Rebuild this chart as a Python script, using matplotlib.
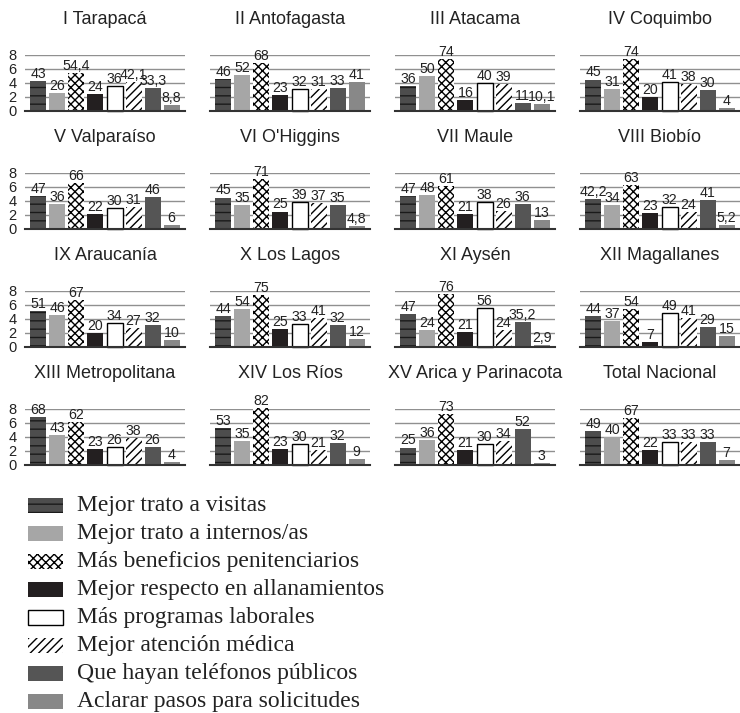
import matplotlib
matplotlib.use("Agg")
import matplotlib.pyplot as plt
from matplotlib.patches import Rectangle

# region titles, in reading order (4 x 4 grid)
regiones = ["I Tarapacá", "II Antofagasta", "III Atacama", "IV Coquimbo",
            "V Valparaíso", "VI O'Higgins", "VII Maule", "VIII Biobío",
            "IX Araucanía", "X Los Lagos", "XI Aysén", "XII Magallanes",
            "XIII Metropolitana", "XIV Los Ríos", "XV Arica y Parinacota",
            "Total Nacional"]

categorias = ["Mejor trato a visitas", "Mejor trato a internos/as",
              "Más beneficios penitenciarios", "Mejor respecto en allanamientos",
              "Más programas laborales", "Mejor atención médica",
              "Que hayan teléfonos públicos", "Aclarar pasos para solicitudes"]

# percentages per region, one list per category order above
tarapaca = [43, 26, 54.4, 24, 36, 42.1, 33.3, 8.8]
antofagasta = [46, 52, 68, 23, 32, 31, 33, 41]
atacama = [36, 50, 74, 16, 40, 39, 11, 10.1]
coquimbo = [45, 31, 74, 20, 41, 38, 30, 4]
valparaiso = [47, 36, 66, 22, 30, 31, 46, 6]
ohiggins = [45, 35, 71, 25, 39, 37, 35, 4.8]
maule = [47, 48, 61, 21, 38, 26, 36, 13]
biobio = [42.2, 34, 63, 23, 32, 24, 41, 5.2]
araucania = [51, 46, 67, 20, 34, 27, 32, 10]
los_lagos = [44, 54, 75, 25, 33, 41, 32, 12]
aysen = [47, 24, 76, 21, 56, 24, 35.2, 2.9]
magallanes = [44, 37, 54, 7, 49, 41, 29, 15]
metropolitana = [68, 43, 62, 23, 26, 38, 26, 4]
los_rios = [53, 35, 82, 23, 30, 21, 32, 9]
arica = [25, 36, 73, 21, 30, 34, 52, 3]
total = [49, 40, 67, 22, 33, 33, 33, 7]

valores = [tarapaca, antofagasta, atacama, coquimbo, valparaiso, ohiggins,
           maule, biobio, araucania, los_lagos, aysen, magallanes,
           metropolitana, los_rios, arica, total]

# bar styles: (facecolor, edgecolor, hatch, linewidth)
estilos = [
    ("#4d4d4d", "#1a1a1a", "--", 0),
    ("#a6a6a6", "#a6a6a6", None, 0),
    ("white", "black", "xxxx", 0),
    ("#231f20", "#231f20", None, 0),
    ("white", "black", None, 1.0),
    ("white", "black", "////", 0),
    ("#555555", "#555555", None, 0),
    ("#888888", "#888888", None, 0),
]

W, H = 740, 713
fig = plt.figure(figsize=(W / 100, H / 100), dpi=100)

sans = ["Liberation Sans", "DejaVu Sans"]
serif = ["Liberation Serif", "DejaVu Serif"]

col_left = [25, 210, 395, 580]
row_base = [111, 229, 347, 465]
ax_w, ax_h = 160, 56  # pixels, 0..8

def fmt(v):
    return f"{v:g}".replace(".", ",")

for i, (reg, vals) in enumerate(zip(regiones, valores)):
    r, c = divmod(i, 4)
    x0 = col_left[c]
    yb = row_base[r]
    ax = fig.add_axes([x0 / W, (H - yb) / H, ax_w / W, ax_h / H])
    ax.set_xlim(-0.7, 7.7)
    ax.set_ylim(0, 8)
    for k, v in enumerate(vals):
        fc, ec, hat, lw = estilos[k]
        ax.bar(k, v / 10, width=0.84, color=fc, edgecolor=ec, hatch=hat,
               linewidth=lw, zorder=3, clip_on=False)
        ax.annotate(fmt(v), (k, v / 10), xytext=(0, 0), textcoords="offset points",
                    ha="center", va="bottom", fontsize=10.2, family=sans,
                    color="#222222", zorder=4, annotation_clip=False)
    ax.set_yticks([0, 2, 4, 6, 8])
    ax.yaxis.grid(True, color="#909090", linewidth=1.0, zorder=0)
    ax.set_xticks([])
    ax.tick_params(axis="y", length=0, pad=6)
    if c == 0:
        for lab in ax.get_yticklabels():
            lab.set_family(sans)
            lab.set_fontsize(10.5)
            lab.set_color("#222222")
    else:
        ax.set_yticklabels([])
    for s in ["left", "right", "top"]:
        ax.spines[s].set_visible(False)
    ax.spines["bottom"].set_color("#333333")
    ax.spines["bottom"].set_linewidth(1.5)
    ax.spines["bottom"].set_zorder(5)
    ax.set_facecolor("none")
    fig.text((x0 + ax_w / 2) / W, (H - (yb - 91)) / H, reg, ha="center",
             va="center", fontsize=13, family=sans, color="#222222")

# legend at the bottom
lax = fig.add_axes([0, 0, 1, 1])
lax.set_xlim(0, W)
lax.set_ylim(H, 0)
lax.axis("off")
lax.set_facecolor("none")
for k, cat in enumerate(categorias):
    yc = 505 + 28.1 * k
    fc, ec, hat, lw = estilos[k]
    lax.add_patch(Rectangle((28, yc - 7.5), 35, 15, facecolor=fc, edgecolor=ec,
                            hatch=hat, linewidth=lw))
    lax.text(77, yc, cat, ha="left", va="center", fontsize=17,
             family=serif, color="#222222")

fig.savefig("out.png", dpi=100)
